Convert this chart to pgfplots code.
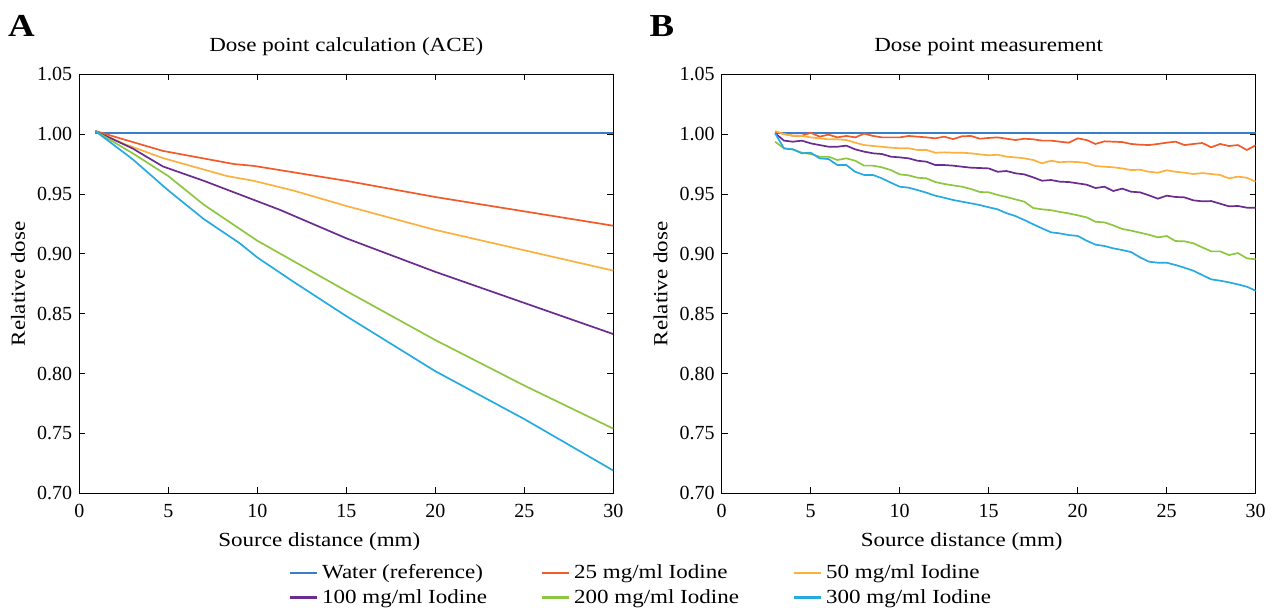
\documentclass[border=0pt]{standalone}
\usepackage{fontspec}
\setmainfont{Liberation Serif}[FakeStretch=1.15]
\newfontfamily\tickfont{Liberation Serif}
\usepackage{pgfplots}
\usepackage{pgfplotstable}
\pgfplotsset{compat=1.18}

\definecolor{cwater}{HTML}{3A7DC9}
\definecolor{c25}{HTML}{F15A29}
\definecolor{c50}{HTML}{FBB040}
\definecolor{c100}{HTML}{6A2C91}
\definecolor{c200}{HTML}{8DC63F}
\definecolor{c300}{HTML}{27AAE1}

% panel B: measured dose, every 0.5 mm
\pgfplotstableread{
x    w      d25    d50    d100   d200   d300
3    1.0008 1.0021 1.0026 1.0007 0.9937 1.0007
3.5  1.0008 1.0001 1.0001 0.9946 0.9881 0.9881
4    1.0008 0.9987 0.9987 0.9937 0.9873 0.9873
4.5  1.0008 0.9987 0.9985 0.9946 0.9845 0.9840
5    1.0008 1.0012 0.9973 0.9923 0.9834 0.9845
5.5  1.0008 0.9979 0.9965 0.9909 0.9812 0.9798
6    1.0008 0.9996 0.9957 0.9895 0.9812 0.9792
6.5  1.0008 0.9973 0.9957 0.9895 0.9784 0.9742
7    1.0008 0.9985 0.9951 0.9904 0.9798 0.9742
7.5  1.0008 0.9973 0.9929 0.9873 0.9778 0.9686
8    1.0008 1.0004 0.9909 0.9854 0.9737 0.9659
8.5  1.0008 0.9985 0.9901 0.9840 0.9737 0.9659
9    1.0008 0.9973 0.9895 0.9834 0.9723 0.9631
9.5  1.0008 0.9973 0.9887 0.9812 0.9700 0.9595
10   1.0008 0.9973 0.9882 0.9806 0.9664 0.9561
10.5 1.0008 0.9985 0.9882 0.9798 0.9656 0.9553
11   1.0008 0.9979 0.9868 0.9778 0.9636 0.9533
11.5 1.0008 0.9973 0.9868 0.9770 0.9631 0.9511
12   1.0008 0.9965 0.9845 0.9742 0.9600 0.9486
12.5 1.0008 0.9979 0.9848 0.9742 0.9584 0.9469
13   1.0008 0.9959 0.9845 0.9737 0.9572 0.9450
13.5 1.0008 0.9982 0.9845 0.9728 0.9561 0.9436
14   1.0008 0.9985 0.9840 0.9720 0.9542 0.9422
14.5 1.0008 0.9962 0.9831 0.9717 0.9517 0.9408
15   1.0008 0.9968 0.9823 0.9714 0.9514 0.9389
15.5 1.0008 0.9973 0.9828 0.9686 0.9492 0.9372
16   1.0008 0.9962 0.9812 0.9692 0.9475 0.9340
16.5 1.0008 0.9951 0.9806 0.9673 0.9455 0.9316
17   1.0008 0.9962 0.9798 0.9664 0.9436 0.9283
17.5 1.0008 0.9957 0.9784 0.9639 0.9383 0.9247
18   1.0008 0.9946 0.9756 0.9611 0.9372 0.9213
18.5 1.0008 0.9946 0.9778 0.9617 0.9365 0.9180
19   1.0008 0.9937 0.9765 0.9603 0.9350 0.9171
19.5 1.0008 0.9929 0.9770 0.9600 0.9338 0.9157
20   1.0008 0.9965 0.9767 0.9589 0.9322 0.9150
20.5 1.0008 0.9951 0.9759 0.9578 0.9305 0.9110
21   1.0008 0.9918 0.9734 0.9550 0.9268 0.9077
21.5 1.0008 0.9940 0.9728 0.9561 0.9263 0.9066
22   1.0008 0.9937 0.9723 0.9525 0.9238 0.9046
22.5 1.0008 0.9934 0.9714 0.9545 0.9208 0.9032
23   1.0008 0.9918 0.9700 0.9519 0.9194 0.9015
23.5 1.0008 0.9912 0.9703 0.9514 0.9177 0.8971
24   1.0008 0.9909 0.9686 0.9489 0.9160 0.8935
24.5 1.0008 0.9918 0.9678 0.9461 0.9138 0.8926
25   1.0008 0.9929 0.9698 0.9486 0.9149 0.8926
25.5 1.0008 0.9937 0.9686 0.9475 0.9107 0.8907
26   1.0008 0.9909 0.9678 0.9472 0.9105 0.8884
26.5 1.0008 0.9918 0.9667 0.9447 0.9088 0.8859
27   1.0008 0.9926 0.9675 0.9439 0.9054 0.8823
27.5 1.0008 0.9890 0.9667 0.9441 0.9021 0.8787
28   1.0008 0.9918 0.9659 0.9419 0.9021 0.8776
28.5 1.0008 0.9901 0.9631 0.9397 0.8990 0.8762
29   1.0008 0.9909 0.9645 0.9400 0.9007 0.8745
29.5 1.0008 0.9868 0.9636 0.9386 0.8963 0.8726
30   1.0008 0.9907 0.9603 0.9386 0.8954 0.8692
}\meas

\pgfplotsset{
  panel/.style={
    scale only axis, width=267pt, height=209.5pt,
    xmin=0, xmax=30, ymin=0.70, ymax=1.05,
    xtick={0,5,10,15,20,25,30},
    ytick={0.70,0.75,0.80,0.85,0.90,0.95,1.00,1.05},
    yticklabel style={/pgf/number format/.cd, fixed, fixed zerofill, precision=2},
    /pgf/number format/assume math mode=true,
    ticklabel style={font=\tickfont\fontsize{10}{12}\selectfont},
    xticklabel style={yshift=-2pt},
    tick align=inside, major tick length=3pt,
    axis line style={line width=0.5pt},
    every tick/.style={black, line width=0.5pt},
    font=\fontsize{10}{12}\selectfont,
    xlabel={Source distance (mm)}, ylabel={Relative dose},
    xlabel style={at={(axis description cs:0.5,0)}, anchor=base, yshift=-26.8pt, xshift=-13.5pt},
    ylabel style={at={(axis description cs:0,0.5)}, anchor=center, yshift=30.6pt},
    title style={at={(axis description cs:0.5,1)}, anchor=base, yshift=5.2pt},
    every axis plot/.append style={line width=0.85pt, no markers},
  }
}

\begin{document}
\begin{tikzpicture}
\useasboundingbox (0pt,0pt) rectangle (637pt,304pt);

\begin{axis}[panel, at={(39.65pt,57.35pt)}, anchor=south west,
  title={Dose point calculation (ACE)},
  legend columns=3, legend cell align=left,
  legend style={at={(1.0537,-0.219)}, anchor=center, draw=none, fill=none,
    font=\fontsize{10}{12}\selectfont,
    /tikz/every even column/.append style={column sep=25pt}},
  legend image code/.code={\draw[#1, line width=1.1pt] (0pt,0pt) -- (13.5pt,0pt);}]
\addplot[color=cwater] coordinates {(0.9,1.0012) (30,1.0012)};
\addlegendentry{Water (reference)}
\addplot[color=c25] coordinates {(0.9,1.0026) (4.7,0.986) (8.7,0.975) (9.8,0.9735)
  (15,0.961) (20,0.9475) (25,0.9355) (30,0.9235)};
\addlegendentry{25 mg/ml Iodine}
\addplot[color=c50] coordinates {(0.9,1.0026) (2.5,0.992) (4.7,0.980) (8.3,0.965)
  (9.8,0.961) (12,0.953) (15,0.940) (20,0.920) (25,0.903) (30,0.886)};
\addlegendentry{50 mg/ml Iodine}
\addplot[color=c100] coordinates {(0.9,1.0026) (3,0.988) (4.7,0.973) (7,0.961)
  (11.3,0.9366) (15,0.913) (20,0.885) (25,0.859) (30,0.833)};
\addlegendentry{100 mg/ml Iodine}
\addplot[color=c200] coordinates {(0.9,1.0026) (3,0.984) (5,0.965) (7,0.941)
  (8.8,0.923) (10,0.911) (15,0.869) (20,0.828) (25,0.790) (30,0.754)};
\addlegendentry{200 mg/ml Iodine}
\addplot[color=c300] coordinates {(0.9,1.0026) (3,0.979) (5,0.953) (7,0.929)
  (9,0.909) (10,0.897) (12,0.877) (15,0.848) (20,0.802) (21,0.794)
  (25,0.762) (30,0.719)};
\addlegendentry{300 mg/ml Iodine}
\end{axis}

\begin{axis}[panel, at={(360.85pt,57.35pt)}, anchor=south west,
  title={Dose point measurement}]
\addplot[color=cwater] table[x=x, y=w] {\meas};
\addplot[color=c25] table[x=x, y=d25] {\meas};
\addplot[color=c50] table[x=x, y=d50] {\meas};
\addplot[color=c100] table[x=x, y=d100] {\meas};
\addplot[color=c200] table[x=x, y=d200] {\meas};
\addplot[color=c300] table[x=x, y=d300] {\meas};
\end{axis}

\node[font=\fontsize{16}{18}\selectfont\bfseries] at (10.75pt,291pt) {A};
\node[font=\fontsize{16}{18}\selectfont\bfseries] at (331pt,291pt) {B};
\end{tikzpicture}
\end{document}
